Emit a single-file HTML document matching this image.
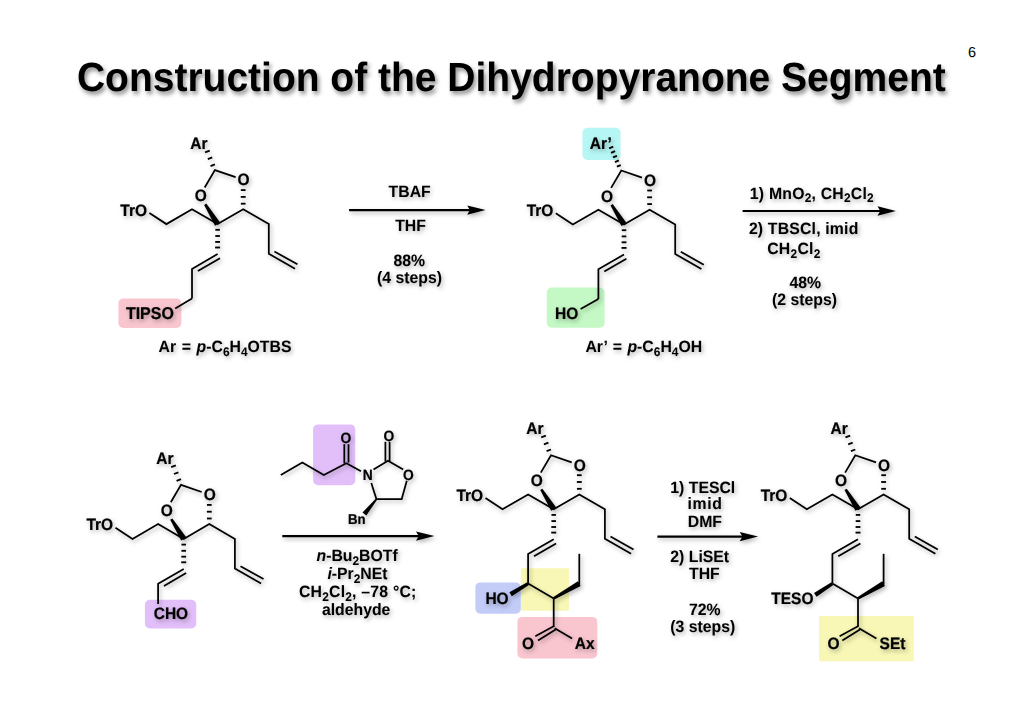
<!DOCTYPE html>
<html><head><meta charset="utf-8"><style>
html,body{margin:0;padding:0;background:#fff;}
svg{display:block;filter:blur(0.35px);}
text{font-family:"Liberation Sans",sans-serif;font-weight:bold;fill:#000;text-rendering:geometricPrecision;stroke:#000;stroke-width:0.22px;}
</style></head><body>
<svg width="1024" height="724" viewBox="0 0 1024 724">
<defs>
<filter id="sh" x="-5%" y="-5%" width="110%" height="110%"><feDropShadow dx="1.6" dy="2.2" stdDeviation="2.2" flood-color="#000" flood-opacity="0.3"/></filter>
<filter id="sht" x="-5%" y="-30%" width="110%" height="160%"><feDropShadow dx="2" dy="3" stdDeviation="2" flood-color="#000" flood-opacity="0.45"/></filter>
</defs>
<rect width="1024" height="724" fill="#fff"/>
<rect x="118.4" y="298.4" width="63" height="29.6" rx="5" fill="#f9c6d0"/>
<rect x="582.5" y="127.8" width="38.1" height="32.2" rx="5" fill="#b6f6f4"/>
<rect x="546.8" y="287.5" width="57.8" height="40.2" rx="5" fill="#c4f8c4"/>
<rect x="144.9" y="599.8" width="51.4" height="28.7" rx="5" fill="#e3bffa"/>
<rect x="313.1" y="424.4" width="42.2" height="60.9" rx="5" fill="#e3bffa"/>
<rect x="520.8" y="568.3" width="48.2" height="42.5" rx="1" fill="#f8f7b6"/>
<rect x="475.4" y="582.4" width="45.4" height="31.4" rx="5" fill="#c2ccf7"/>
<rect x="517.4" y="616.9" width="79.9" height="41.5" rx="5" fill="#f9c6d0"/>
<rect x="819" y="616" width="94.8" height="45.2" rx="1" fill="#f8f7b6"/>
<g filter="url(#sh)">
<polyline points="149.4,212.9 166.4,224.1 192,209.3 217.6,224.1 243.2,209.3 268.8,224.1 268.8,253.7 295,268.7" fill="none" stroke="#000" stroke-width="1.75" stroke-linejoin="miter" stroke-miterlimit="4"/>
<polyline points="274.4,251.4 297.4,264.3" fill="none" stroke="#000" stroke-width="1.75" stroke-linejoin="miter" stroke-miterlimit="4"/>
<polyline points="235.6,177.2 214.9,170.1 204.7,187.5" fill="none" stroke="#000" stroke-width="1.75" stroke-linejoin="miter" stroke-miterlimit="4"/>
<polygon points="204.1,204.99 215.06,225.69 220.14,222.51 206.3,203.61"/>
<line x1="245.55" y1="203.7" x2="240.85" y2="203.7" stroke="#000" stroke-width="1.85"/>
<line x1="245.65" y1="196.9" x2="240.75" y2="196.9" stroke="#000" stroke-width="1.85"/>
<line x1="245.55" y1="190.1" x2="240.85" y2="190.1" stroke="#000" stroke-width="1.85"/>
<line x1="215.35" y1="229.8" x2="219.85" y2="229.8" stroke="#000" stroke-width="1.85"/>
<line x1="215.3" y1="236" x2="219.9" y2="236" stroke="#000" stroke-width="1.85"/>
<line x1="215.2" y1="241.9" x2="220" y2="241.9" stroke="#000" stroke-width="1.85"/>
<line x1="215.1" y1="247.5" x2="220.1" y2="247.5" stroke="#000" stroke-width="1.85"/>
<line x1="214.9" y1="164.41" x2="210.51" y2="166.09" stroke="#000" stroke-width="1.85"/>
<line x1="212.3" y1="157.48" x2="207.82" y2="159.2" stroke="#000" stroke-width="1.85"/>
<line x1="209.75" y1="150.54" x2="205.08" y2="152.32" stroke="#000" stroke-width="1.85"/>
<text x="120.3" y="215.7" font-size="15.5" transform="matrix(1 0 0 1.07 0 -15.1)"><tspan>TrO</tspan></text>
<text x="237.62" y="185.5" font-size="15.5" transform="matrix(1 0 0 1.07 0 -12.99)"><tspan>O</tspan></text>
<text x="194.72" y="201.3" font-size="15.5" transform="matrix(1 0 0 1.07 0 -14.09)"><tspan>O</tspan></text>
<text x="190.2" y="148.8" font-size="15.5" transform="matrix(1 0 0 1.07 0 -10.42)"><tspan>Ar</tspan></text>
<polyline points="555.8,213.3 572.8,224.5 598.4,209.7 624,224.5 649.6,209.7 675.2,224.5 675.2,254.1 701.4,269.1" fill="none" stroke="#000" stroke-width="1.75" stroke-linejoin="miter" stroke-miterlimit="4"/>
<polyline points="680.8,251.8 703.8,264.7" fill="none" stroke="#000" stroke-width="1.75" stroke-linejoin="miter" stroke-miterlimit="4"/>
<polyline points="642,177.6 621.3,170.5 611.1,187.9" fill="none" stroke="#000" stroke-width="1.75" stroke-linejoin="miter" stroke-miterlimit="4"/>
<polygon points="610.5,205.39 621.46,226.09 626.54,222.91 612.7,204.01"/>
<line x1="651.95" y1="204.1" x2="647.25" y2="204.1" stroke="#000" stroke-width="1.85"/>
<line x1="652.05" y1="197.3" x2="647.15" y2="197.3" stroke="#000" stroke-width="1.85"/>
<line x1="651.95" y1="190.5" x2="647.25" y2="190.5" stroke="#000" stroke-width="1.85"/>
<line x1="621.75" y1="230.2" x2="626.25" y2="230.2" stroke="#000" stroke-width="1.85"/>
<line x1="621.7" y1="236.4" x2="626.3" y2="236.4" stroke="#000" stroke-width="1.85"/>
<line x1="621.6" y1="242.3" x2="626.4" y2="242.3" stroke="#000" stroke-width="1.85"/>
<line x1="621.5" y1="247.9" x2="626.5" y2="247.9" stroke="#000" stroke-width="1.85"/>
<line x1="620.75" y1="165.01" x2="616.88" y2="166.63" stroke="#000" stroke-width="1.9"/>
<line x1="618.86" y1="160.49" x2="614.99" y2="162.11" stroke="#000" stroke-width="1.9"/>
<line x1="616.94" y1="155.76" x2="612.97" y2="157.42" stroke="#000" stroke-width="1.9"/>
<line x1="615.09" y1="151.22" x2="611.03" y2="152.92" stroke="#000" stroke-width="1.9"/>
<line x1="613.25" y1="146.68" x2="609.1" y2="148.42" stroke="#000" stroke-width="1.9"/>
<text x="526.7" y="216.1" font-size="15.5" transform="matrix(1 0 0 1.07 0 -15.13)"><tspan>TrO</tspan></text>
<text x="644.02" y="185.9" font-size="15.5" transform="matrix(1 0 0 1.07 0 -13.01)"><tspan>O</tspan></text>
<text x="601.12" y="201.7" font-size="15.5" transform="matrix(1 0 0 1.07 0 -14.12)"><tspan>O</tspan></text>
<polyline points="115.5,527.7 132.5,538.9 158.1,524.1 183.7,538.9 209.3,524.1 234.9,538.9 234.9,568.5 261.1,583.5" fill="none" stroke="#000" stroke-width="1.75" stroke-linejoin="miter" stroke-miterlimit="4"/>
<polyline points="240.5,566.2 263.5,579.1" fill="none" stroke="#000" stroke-width="1.75" stroke-linejoin="miter" stroke-miterlimit="4"/>
<polyline points="201.7,492 181,484.9 170.8,502.3" fill="none" stroke="#000" stroke-width="1.75" stroke-linejoin="miter" stroke-miterlimit="4"/>
<polygon points="170.2,519.79 181.16,540.49 186.24,537.31 172.4,518.41"/>
<line x1="211.65" y1="518.5" x2="206.95" y2="518.5" stroke="#000" stroke-width="1.85"/>
<line x1="211.75" y1="511.7" x2="206.85" y2="511.7" stroke="#000" stroke-width="1.85"/>
<line x1="211.65" y1="504.9" x2="206.95" y2="504.9" stroke="#000" stroke-width="1.85"/>
<line x1="181.45" y1="544.6" x2="185.95" y2="544.6" stroke="#000" stroke-width="1.85"/>
<line x1="181.4" y1="550.8" x2="186" y2="550.8" stroke="#000" stroke-width="1.85"/>
<line x1="181.3" y1="556.7" x2="186.1" y2="556.7" stroke="#000" stroke-width="1.85"/>
<line x1="181.2" y1="562.3" x2="186.2" y2="562.3" stroke="#000" stroke-width="1.85"/>
<line x1="181" y1="479.21" x2="176.61" y2="480.89" stroke="#000" stroke-width="1.85"/>
<line x1="178.4" y1="472.28" x2="173.92" y2="474" stroke="#000" stroke-width="1.85"/>
<line x1="175.85" y1="465.34" x2="171.18" y2="467.12" stroke="#000" stroke-width="1.85"/>
<text x="86.4" y="530.5" font-size="15.5" transform="matrix(1 0 0 1.07 0 -37.14)"><tspan>TrO</tspan></text>
<text x="203.72" y="500.3" font-size="15.5" transform="matrix(1 0 0 1.07 0 -35.02)"><tspan>O</tspan></text>
<text x="160.82" y="516.1" font-size="15.5" transform="matrix(1 0 0 1.07 0 -36.13)"><tspan>O</tspan></text>
<text x="156.3" y="463.6" font-size="15.5" transform="matrix(1 0 0 1.07 0 -32.45)"><tspan>Ar</tspan></text>
<polyline points="485.5,498 502.5,509.2 528.1,494.4 553.7,509.2 579.3,494.4 604.9,509.2 604.9,538.8 631.1,553.8" fill="none" stroke="#000" stroke-width="1.75" stroke-linejoin="miter" stroke-miterlimit="4"/>
<polyline points="610.5,536.5 633.5,549.4" fill="none" stroke="#000" stroke-width="1.75" stroke-linejoin="miter" stroke-miterlimit="4"/>
<polyline points="571.7,462.3 551,455.2 540.8,472.6" fill="none" stroke="#000" stroke-width="1.75" stroke-linejoin="miter" stroke-miterlimit="4"/>
<polygon points="540.2,490.09 551.16,510.79 556.24,507.61 542.4,488.71"/>
<line x1="581.65" y1="488.8" x2="576.95" y2="488.8" stroke="#000" stroke-width="1.85"/>
<line x1="581.75" y1="482" x2="576.85" y2="482" stroke="#000" stroke-width="1.85"/>
<line x1="581.65" y1="475.2" x2="576.95" y2="475.2" stroke="#000" stroke-width="1.85"/>
<line x1="551.45" y1="514.9" x2="555.95" y2="514.9" stroke="#000" stroke-width="1.85"/>
<line x1="551.4" y1="521.1" x2="556" y2="521.1" stroke="#000" stroke-width="1.85"/>
<line x1="551.3" y1="527" x2="556.1" y2="527" stroke="#000" stroke-width="1.85"/>
<line x1="551.2" y1="532.6" x2="556.2" y2="532.6" stroke="#000" stroke-width="1.85"/>
<line x1="551" y1="449.51" x2="546.61" y2="451.19" stroke="#000" stroke-width="1.85"/>
<line x1="548.4" y1="442.58" x2="543.92" y2="444.3" stroke="#000" stroke-width="1.85"/>
<line x1="545.85" y1="435.64" x2="541.18" y2="437.42" stroke="#000" stroke-width="1.85"/>
<text x="456.4" y="500.8" font-size="15.5" transform="matrix(1 0 0 1.07 0 -35.06)"><tspan>TrO</tspan></text>
<text x="573.73" y="470.6" font-size="15.5" transform="matrix(1 0 0 1.07 0 -32.94)"><tspan>O</tspan></text>
<text x="530.83" y="486.4" font-size="15.5" transform="matrix(1 0 0 1.07 0 -34.05)"><tspan>O</tspan></text>
<text x="526.3" y="433.9" font-size="15.5" transform="matrix(1 0 0 1.07 0 -30.37)"><tspan>Ar</tspan></text>
<polyline points="789.8,498 806.8,509.2 832.4,494.4 858,509.2 883.6,494.4 909.2,509.2 909.2,538.8 935.4,553.8" fill="none" stroke="#000" stroke-width="1.75" stroke-linejoin="miter" stroke-miterlimit="4"/>
<polyline points="914.8,536.5 937.8,549.4" fill="none" stroke="#000" stroke-width="1.75" stroke-linejoin="miter" stroke-miterlimit="4"/>
<polyline points="876,462.3 855.3,455.2 845.1,472.6" fill="none" stroke="#000" stroke-width="1.75" stroke-linejoin="miter" stroke-miterlimit="4"/>
<polygon points="844.5,490.09 855.46,510.79 860.54,507.61 846.7,488.71"/>
<line x1="885.95" y1="488.8" x2="881.25" y2="488.8" stroke="#000" stroke-width="1.85"/>
<line x1="886.05" y1="482" x2="881.15" y2="482" stroke="#000" stroke-width="1.85"/>
<line x1="885.95" y1="475.2" x2="881.25" y2="475.2" stroke="#000" stroke-width="1.85"/>
<line x1="855.75" y1="514.9" x2="860.25" y2="514.9" stroke="#000" stroke-width="1.85"/>
<line x1="855.7" y1="521.1" x2="860.3" y2="521.1" stroke="#000" stroke-width="1.85"/>
<line x1="855.6" y1="527" x2="860.4" y2="527" stroke="#000" stroke-width="1.85"/>
<line x1="855.5" y1="532.6" x2="860.5" y2="532.6" stroke="#000" stroke-width="1.85"/>
<line x1="855.3" y1="449.51" x2="850.91" y2="451.19" stroke="#000" stroke-width="1.85"/>
<line x1="852.7" y1="442.58" x2="848.22" y2="444.3" stroke="#000" stroke-width="1.85"/>
<line x1="850.15" y1="435.64" x2="845.48" y2="437.42" stroke="#000" stroke-width="1.85"/>
<text x="760.7" y="500.8" font-size="15.5" transform="matrix(1 0 0 1.07 0 -35.06)"><tspan>TrO</tspan></text>
<text x="878.02" y="470.6" font-size="15.5" transform="matrix(1 0 0 1.07 0 -32.94)"><tspan>O</tspan></text>
<text x="835.12" y="486.4" font-size="15.5" transform="matrix(1 0 0 1.07 0 -34.05)"><tspan>O</tspan></text>
<text x="830.6" y="433.9" font-size="15.5" transform="matrix(1 0 0 1.07 0 -30.37)"><tspan>Ar</tspan></text>
<polyline points="217.6,254.1 192,268.9 192,298.5" fill="none" stroke="#000" stroke-width="1.75" stroke-linejoin="miter" stroke-miterlimit="4"/>
<polyline points="220,258.3 197.9,271.1" fill="none" stroke="#000" stroke-width="1.75" stroke-linejoin="miter" stroke-miterlimit="4"/>
<polyline points="192,298.5 175.2,308.6" fill="none" stroke="#000" stroke-width="1.75" stroke-linejoin="miter" stroke-miterlimit="4"/>
<text x="125.9" y="318.6" font-size="16" transform="matrix(1 0 0 1.07 0 -22.3)"><tspan>TIPSO</tspan></text>
<text x="158.6" y="352.4" font-size="15.8" word-spacing="1.2" style="stroke-width:0.05px" transform="matrix(1 0 0 1.04 0 -14.1)"><tspan>Ar = </tspan><tspan font-style="italic">p</tspan><tspan>-C</tspan><tspan font-size="11.9" dy="3.7">6</tspan><tspan dy="-3.7">H</tspan><tspan font-size="11.9" dy="3.7">4</tspan><tspan dy="-3.7">OTBS</tspan></text>
<polyline points="624,254.5 598.4,269.3 598.4,298.9" fill="none" stroke="#000" stroke-width="1.75" stroke-linejoin="miter" stroke-miterlimit="4"/>
<polyline points="626.4,258.7 604.3,271.5" fill="none" stroke="#000" stroke-width="1.75" stroke-linejoin="miter" stroke-miterlimit="4"/>
<polyline points="598.4,298.9 580.6,309" fill="none" stroke="#000" stroke-width="1.75" stroke-linejoin="miter" stroke-miterlimit="4"/>
<text x="555" y="319" font-size="15.5" transform="matrix(1 0 0 1.07 0 -22.33)"><tspan>HO</tspan></text>
<text x="589.8" y="148.8" font-size="15.5" transform="matrix(1 0 0 1.07 0 -10.42)"><tspan>Ar’</tspan></text>
<text x="585.4" y="352.4" font-size="15.8" word-spacing="1.2" style="stroke-width:0.05px" transform="matrix(1 0 0 1.04 0 -14.1)"><tspan>Ar’ = </tspan><tspan font-style="italic">p</tspan><tspan>-C</tspan><tspan font-size="11.9" dy="3.7">6</tspan><tspan dy="-3.7">H</tspan><tspan font-size="11.9" dy="3.7">4</tspan><tspan dy="-3.7">OH</tspan></text>
<polyline points="183.7,568.9 158.1,583.7 158.1,603.9" fill="none" stroke="#000" stroke-width="1.75" stroke-linejoin="miter" stroke-miterlimit="4"/>
<polyline points="186.1,573.1 164,585.9" fill="none" stroke="#000" stroke-width="1.75" stroke-linejoin="miter" stroke-miterlimit="4"/>
<text x="153.7" y="619.2" font-size="15.5" transform="matrix(1 0 0 1.07 0 -43.34)"><tspan>CHO</tspan></text>
<polyline points="553.7,539.2 528.1,554 528.1,583.6" fill="none" stroke="#000" stroke-width="1.75" stroke-linejoin="miter" stroke-miterlimit="4"/>
<polyline points="556.1,543.4 534,556.2" fill="none" stroke="#000" stroke-width="1.75" stroke-linejoin="miter" stroke-miterlimit="4"/>
<polyline points="528.1,583.6 553.7,598.4" fill="none" stroke="#000" stroke-width="1.75" stroke-linejoin="miter" stroke-miterlimit="4"/>
<polygon points="554.35,599.53 580.65,585.94 577.95,581.26 553.05,597.27"/>
<polyline points="579.3,584.6 579.3,553.8" fill="none" stroke="#000" stroke-width="1.75" stroke-linejoin="miter" stroke-miterlimit="4"/>
<polyline points="553.7,598.4 553.7,626.8" fill="none" stroke="#000" stroke-width="1.75" stroke-linejoin="miter" stroke-miterlimit="4"/>
<polyline points="554.7,628.2 572.1,638.6" fill="none" stroke="#000" stroke-width="1.75" stroke-linejoin="miter" stroke-miterlimit="4"/>
<polyline points="554.1,626.1 535.3,636.2" fill="none" stroke="#000" stroke-width="1.75" stroke-linejoin="miter" stroke-miterlimit="4"/>
<polyline points="555.7,629.6 538,640.4" fill="none" stroke="#000" stroke-width="1.75" stroke-linejoin="miter" stroke-miterlimit="4"/>
<polygon points="527.22,582.15 509.41,592.23 511.79,596.17 528.98,585.05"/>
<text x="485.4" y="604.4" font-size="15.5" transform="matrix(1 0 0 1.07 0 -42.31)"><tspan>HO</tspan></text>
<text x="522" y="648.6" font-size="15.5" transform="matrix(1 0 0 1.07 0 -45.4)"><tspan>O</tspan></text>
<text x="574.8" y="648.6" font-size="15.5" transform="matrix(1 0 0 1.07 0 -45.4)"><tspan>Ax</tspan></text>
<polyline points="858,539.2 832.4,554 832.4,583.6" fill="none" stroke="#000" stroke-width="1.75" stroke-linejoin="miter" stroke-miterlimit="4"/>
<polyline points="860.4,543.4 838.3,556.2" fill="none" stroke="#000" stroke-width="1.75" stroke-linejoin="miter" stroke-miterlimit="4"/>
<polyline points="832.4,583.6 858,598.4" fill="none" stroke="#000" stroke-width="1.75" stroke-linejoin="miter" stroke-miterlimit="4"/>
<polygon points="858.65,599.53 884.95,585.94 882.25,581.26 857.35,597.27"/>
<polyline points="883.6,584.6 883.6,553.8" fill="none" stroke="#000" stroke-width="1.75" stroke-linejoin="miter" stroke-miterlimit="4"/>
<polyline points="858,598.4 858,626.8" fill="none" stroke="#000" stroke-width="1.75" stroke-linejoin="miter" stroke-miterlimit="4"/>
<polyline points="859,628.2 876.4,638.6" fill="none" stroke="#000" stroke-width="1.75" stroke-linejoin="miter" stroke-miterlimit="4"/>
<polyline points="858.4,626.1 839.6,636.2" fill="none" stroke="#000" stroke-width="1.75" stroke-linejoin="miter" stroke-miterlimit="4"/>
<polyline points="860,629.6 842.3,640.4" fill="none" stroke="#000" stroke-width="1.75" stroke-linejoin="miter" stroke-miterlimit="4"/>
<polygon points="831.47,582.18 814.04,592.88 816.56,596.72 833.33,585.02"/>
<text x="771.3" y="604" font-size="15.5" transform="matrix(1 0 0 1.07 0 -42.28)"><tspan>TESO</tspan></text>
<text x="827.6" y="648.6" font-size="15.5" transform="matrix(1 0 0 1.07 0 -45.4)"><tspan>O</tspan></text>
<text x="879.6" y="648.6" font-size="15.5" transform="matrix(1 0 0 1.07 0 -45.4)"><tspan>SEt</tspan></text>
<polyline points="280.8,474.9 302.3,462.6 323.8,475.1 346.4,463.3 361,471.2" fill="none" stroke="#000" stroke-width="1.75" stroke-linejoin="miter" stroke-miterlimit="4"/>
<polyline points="344.3,463.4 344.3,444.2" fill="none" stroke="#000" stroke-width="1.75" stroke-linejoin="miter" stroke-miterlimit="4"/>
<polyline points="348.5,462.6 348.5,444.2" fill="none" stroke="#000" stroke-width="1.75" stroke-linejoin="miter" stroke-miterlimit="4"/>
<polyline points="373.5,469.6 388,460.8 403.2,469.6" fill="none" stroke="#000" stroke-width="1.75" stroke-linejoin="miter" stroke-miterlimit="4"/>
<polyline points="385.4,461.6 385.4,441.8" fill="none" stroke="#000" stroke-width="1.75" stroke-linejoin="miter" stroke-miterlimit="4"/>
<polyline points="389.6,461.6 389.6,441.8" fill="none" stroke="#000" stroke-width="1.75" stroke-linejoin="miter" stroke-miterlimit="4"/>
<polyline points="406.8,480.8 401.7,499 376.4,499 371.3,483" fill="none" stroke="#000" stroke-width="1.75" stroke-linejoin="miter" stroke-miterlimit="4"/>
<polygon points="375.7,498.73 362.46,512.42 366.34,515.58 377.1,499.87"/>
<text x="340.6" y="442.6" font-size="13.8" transform="matrix(1 0 0 1.07 0 -30.98)"><tspan>O</tspan></text>
<text x="383.5" y="440.6" font-size="13.8" transform="matrix(1 0 0 1.07 0 -30.84)"><tspan>O</tspan></text>
<text x="362.8" y="480" font-size="13.8" transform="matrix(1 0 0 1.07 0 -33.6)"><tspan>N</tspan></text>
<text x="403" y="479.8" font-size="13.8" transform="matrix(1 0 0 1.07 0 -33.59)"><tspan>O</tspan></text>
<text x="348" y="524.4" font-size="13.2" transform="matrix(1 0 0 1.07 0 -36.71)"><tspan>Bn</tspan></text>
<line x1="349.1" y1="210.1" x2="477.6" y2="210.1" stroke="#000" stroke-width="2.2"/>
<polygon points="485.6,210.1 467.2,205.4 470,210.1 467.2,214.8"/>
<text x="388.6" y="196.6" font-size="15.8" style="stroke-width:0.05px" transform="matrix(1 0 0 1.04 0 -7.86)"><tspan>TBAF</tspan></text>
<text x="395.2" y="231.3" font-size="15.8" style="stroke-width:0.05px" transform="matrix(1 0 0 1.04 0 -9.25)"><tspan>THF</tspan></text>
<text x="393.5" y="265.8" font-size="15.8" style="stroke-width:0.05px" transform="matrix(1 0 0 1.04 0 -10.63)"><tspan>88%</tspan></text>
<text x="377" y="283.2" font-size="15.8" style="stroke-width:0.05px" transform="matrix(1 0 0 1.04 0 -11.33)"><tspan>(4 steps)</tspan></text>
<line x1="742.6" y1="211" x2="887.9" y2="211" stroke="#000" stroke-width="2.2"/>
<polygon points="895.9,211 877.5,206.3 880.3,211 877.5,215.7"/>
<text x="749.8" y="198.6" font-size="15.8" letter-spacing="0.22" style="stroke-width:0.05px" transform="matrix(1 0 0 1.04 0 -7.94)"><tspan>1) MnO</tspan><tspan font-size="11.9" dy="3.7">2</tspan><tspan dy="-3.7">, CH</tspan><tspan font-size="11.9" dy="3.7">2</tspan><tspan dy="-3.7">Cl</tspan><tspan font-size="11.9" dy="3.7">2</tspan></text>
<text x="748.9" y="234.4" font-size="15.8" letter-spacing="0.18" style="stroke-width:0.05px" transform="matrix(1 0 0 1.04 0 -9.38)"><tspan>2) TBSCl, imid</tspan></text>
<text x="767.2" y="253.7" font-size="15.8" letter-spacing="0.25" style="stroke-width:0.05px" transform="matrix(1 0 0 1.04 0 -10.15)"><tspan>CH</tspan><tspan font-size="11.9" dy="3.7">2</tspan><tspan dy="-3.7">Cl</tspan><tspan font-size="11.9" dy="3.7">2</tspan></text>
<text x="789.5" y="288.5" font-size="15.8" style="stroke-width:0.05px" transform="matrix(1 0 0 1.04 0 -11.54)"><tspan>48%</tspan></text>
<text x="772.1" y="305.2" font-size="15.8" style="stroke-width:0.05px" transform="matrix(1 0 0 1.04 0 -12.21)"><tspan>(2 steps)</tspan></text>
<line x1="282.3" y1="536.1" x2="426.4" y2="536.1" stroke="#000" stroke-width="2.2"/>
<polygon points="434.4,536.1 416,531.4 418.8,536.1 416,540.8"/>
<text x="316.5" y="561.5" font-size="15.8" style="stroke-width:0.05px" transform="matrix(1 0 0 1.04 0 -22.46)"><tspan font-style="italic">n</tspan><tspan>-Bu</tspan><tspan font-size="11.9" dy="3.7">2</tspan><tspan dy="-3.7">BOTf</tspan></text>
<text x="327.4" y="579.2" font-size="15.8" style="stroke-width:0.05px" transform="matrix(1 0 0 1.04 0 -23.17)"><tspan font-style="italic">i</tspan><tspan>-Pr</tspan><tspan font-size="11.9" dy="3.7">2</tspan><tspan dy="-3.7">NEt</tspan></text>
<text x="298.9" y="597" font-size="15.8" letter-spacing="0.22" style="stroke-width:0.05px" transform="matrix(1 0 0 1.04 0 -23.88)"><tspan>CH</tspan><tspan font-size="11.9" dy="3.7">2</tspan><tspan dy="-3.7">Cl</tspan><tspan font-size="11.9" dy="3.7">2</tspan><tspan dy="-3.7">, –78 °C;</tspan></text>
<text x="321.9" y="614.6" font-size="15.8" style="stroke-width:0.05px" transform="matrix(1 0 0 1.04 0 -24.58)"><tspan>aldehyde</tspan></text>
<line x1="657.4" y1="536.6" x2="750.1" y2="536.6" stroke="#000" stroke-width="2.2"/>
<polygon points="758.1,536.6 739.7,531.9 742.5,536.6 739.7,541.3"/>
<text x="670.3" y="493.2" font-size="15.8" style="stroke-width:0.05px" transform="matrix(1 0 0 1.04 0 -19.73)"><tspan>1) TESCl</tspan></text>
<text x="687.6" y="509.4" font-size="15.8" letter-spacing="0.6" style="stroke-width:0.05px" transform="matrix(1 0 0 1.04 0 -20.38)"><tspan>imid</tspan></text>
<text x="687.8" y="526.8" font-size="15.8" style="stroke-width:0.05px" transform="matrix(1 0 0 1.04 0 -21.07)"><tspan>DMF</tspan></text>
<text x="670.3" y="561.6" font-size="15.8" style="stroke-width:0.05px" transform="matrix(1 0 0 1.04 0 -22.46)"><tspan>2) LiSEt</tspan></text>
<text x="689" y="579" font-size="15.8" style="stroke-width:0.05px" transform="matrix(1 0 0 1.04 0 -23.16)"><tspan>THF</tspan></text>
<text x="689" y="615.1" font-size="15.8" style="stroke-width:0.05px" transform="matrix(1 0 0 1.04 0 -24.6)"><tspan>72%</tspan></text>
<text x="670.3" y="632" font-size="15.8" style="stroke-width:0.05px" transform="matrix(1 0 0 1.04 0 -25.28)"><tspan>(3 steps)</tspan></text>
</g>
<text x="76.9" y="91.4" font-size="39" style="stroke:none" filter="url(#sht)" transform="matrix(1 0 0 1.045 0 -4.11)">Construction of the Dihydropyranone Segment</text>
<text x="968" y="56.5" font-size="14.5" style="font-weight:normal;stroke:none">6</text>
</svg>
</body></html>
